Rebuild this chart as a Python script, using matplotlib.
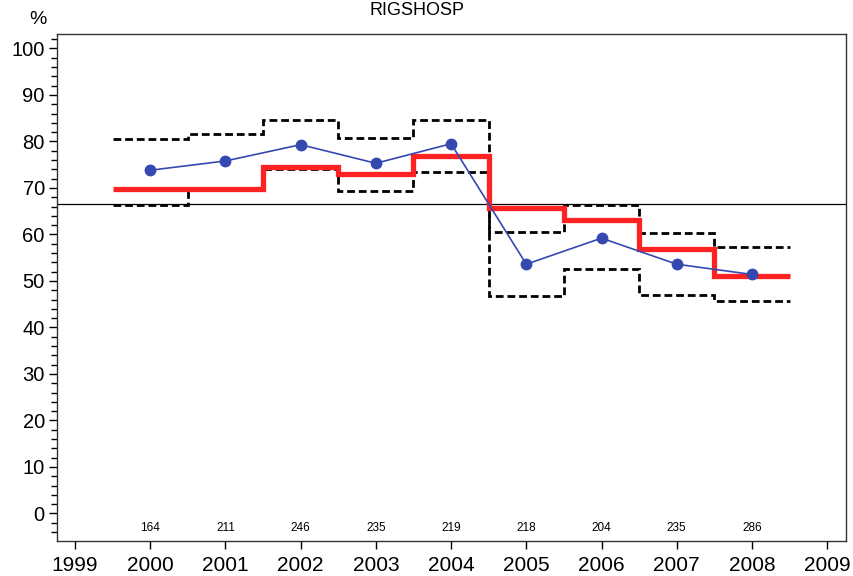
import numpy as np
import matplotlib
matplotlib.use("Agg")
import matplotlib.pyplot as plt
from matplotlib.ticker import MultipleLocator

plt.rcParams['font.family'] = ['Liberation Sans', 'DejaVu Sans']

title = "RIGSHOSP"
years = np.array([2000, 2001, 2002, 2003, 2004, 2005, 2006, 2007, 2008])
observed = [73.8, 75.8, 79.3, 75.3, 79.5, 53.6, 59.2, 53.6, 51.4]
expected = [69.8, 69.8, 74.5, 72.9, 76.8, 65.6, 63.2, 56.8, 51.1]
upper_ci = [80.5, 81.5, 84.5, 80.7, 84.6, 60.6, 66.3, 60.4, 57.4]
lower_ci = [66.3, 69.7, 74.0, 69.4, 73.5, 46.8, 52.5, 47.0, 45.6]
counts = [164, 211, 246, 235, 219, 218, 204, 235, 286]
reference = 66.5
xticks = list(range(1999, 2010))

fig = plt.figure(figsize=(8.54, 5.76), dpi=100)
ax = fig.add_axes([0.0671, 0.0613, 0.9235, 0.8797])

edges = np.append(years - 0.5, years[-1] + 0.5)

ax.axhline(reference, color='black', lw=0.9, zorder=1)

ax.stairs(upper_ci, edges, baseline=None, color='black', lw=2.0,
          linestyle=(0, (2.8, 1.4)), zorder=2)
ax.stairs(lower_ci, edges, baseline=None, color='black', lw=2.0,
          linestyle=(0, (2.8, 1.4)), zorder=2)
ax.stairs(expected, edges, baseline=None, color='#ff2222', lw=3.8, zorder=3)
ax.plot(years, observed, color='#3548b0', lw=1.2, marker='o', ms=7.5,
        markeredgecolor='#3548b0', zorder=4)

for x, c in zip(years, counts):
    ax.text(x, -3.2, str(c), ha='center', va='center', fontsize=8.5)

ax.set_xlim(1998.765, 2009.25)
ax.set_ylim(-5.85, 103.1)
ax.set_xticks(xticks)
ax.set_xticklabels([str(t) for t in xticks], fontsize=15)
ax.yaxis.set_major_locator(MultipleLocator(10))
ax.yaxis.set_minor_locator(MultipleLocator(2))
ax.set_yticks(list(range(0, 101, 10)))
ax.tick_params(axis='y', labelsize=14.5, length=6, width=1, direction='out', pad=3)
ax.tick_params(axis='y', which='minor', length=4, width=1)
ax.tick_params(axis='x', labelsize=15, length=6, width=1, direction='out', pad=5)
for s in ax.spines.values():
    s.set_linewidth(1.0)
    s.set_color('#333333')

fig.text(38 / 854, 1 - 20 / 576, '%', ha='center', va='center', fontsize=14)
fig.text(417 / 854, 1 - 2 / 576, title, ha='center', va='top', fontsize=13)

fig.savefig('out.png', dpi=100)
